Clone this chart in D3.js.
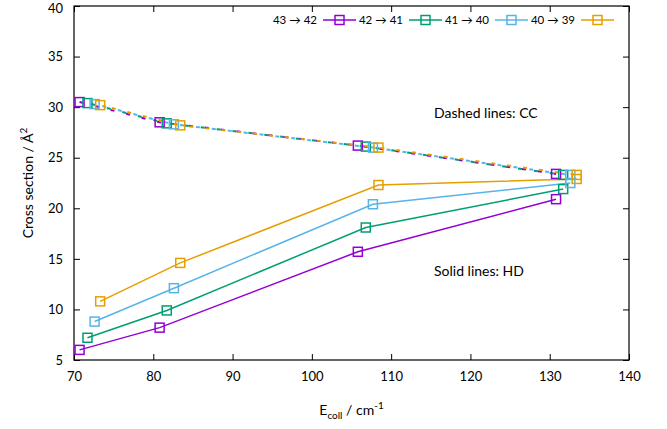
<!DOCTYPE html>
<html>
<head>
<meta charset="utf-8">
<script src="https://cdn.jsdelivr.net/npm/d3@7"></script>
<style>
  body { margin: 0; background: #fff; }
  svg text { font-family: Lato, "Open Sans", sans-serif; fill: #000; }
</style>
</head>
<body>
<div id="chart"></div>
<script>
const seriesNames = ["43 \u2192 42", "42 \u2192 41", "41 \u2192 40", "40 \u2192 39"];
const seriesColors = ["#9400d3", "#009e73", "#56b4e9", "#e69f00"];

const ePurple = [70.7, 80.8, 105.8, 130.8];
const eGreen = [71.7, 81.7, 106.8, 131.7];
const eBlue = [72.6, 82.6, 107.7, 132.6];
const eOrange = [73.3, 83.4, 108.4, 133.4];

const ccPurple = [30.5, 28.5, 26.2, 23.4];
const ccGreen = [30.4, 28.4, 26.1, 23.3];
const ccBlue = [30.3, 28.3, 26.0, 23.3];
const ccOrange = [30.2, 28.2, 26.0, 23.3];

const hdPurple = [6.0, 8.2, 15.7, 20.9];
const hdGreen = [7.2, 9.9, 18.1, 21.9];
const hdBlue = [8.8, 12.1, 20.4, 22.5];
const hdOrange = [10.8, 14.6, 22.3, 22.9];

const xTicks = [70, 80, 90, 100, 110, 120, 130, 140];
const yTicks = [5, 10, 15, 20, 25, 30, 35, 40];

const energies = [ePurple, eGreen, eBlue, eOrange];
const ccValues = [ccPurple, ccGreen, ccBlue, ccOrange];
const hdValues = [hdPurple, hdGreen, hdBlue, hdOrange];

const width = 667;
const height = 429;
const margin = { top: 6, right: 38, bottom: 69, left: 74 };

const x = d3.scaleLinear().domain([70, 140]).range([margin.left, width - margin.right]);
const y = d3.scaleLinear().domain([5, 40]).range([height - margin.bottom, margin.top]);

const svg = d3.select("#chart").append("svg").attr("width", width).attr("height", height);

// axes (ticks inside, mirrored)
const tickLen = 6;
svg.append("g")
  .attr("transform", `translate(0,${y(5)})`)
  .call(d3.axisBottom(x).tickValues(xTicks).tickSize(-tickLen).tickPadding(12))
  .call((g) => g.select(".domain").remove())
  .call((g) => g.selectAll("text").attr("font-size", 13));
svg.append("g")
  .attr("transform", `translate(0,${y(40)})`)
  .call(d3.axisTop(x).tickValues(xTicks).tickSize(-tickLen).tickFormat(""))
  .call((g) => g.select(".domain").remove());
svg.append("g")
  .attr("transform", `translate(${x(70)},0)`)
  .call(d3.axisLeft(y).tickValues(yTicks).tickSize(-tickLen).tickPadding(11))
  .call((g) => g.select(".domain").remove())
  .call((g) => g.selectAll("text").attr("font-size", 13)
    .attr("dy", (d) => (d === 40 ? "0.5em" : "0.32em")));
svg.append("g")
  .attr("transform", `translate(${x(140)},0)`)
  .call(d3.axisRight(y).tickValues(yTicks).tickSize(-tickLen).tickFormat(""))
  .call((g) => g.select(".domain").remove());

svg.append("rect")
  .attr("x", x(70)).attr("y", y(40))
  .attr("width", x(140) - x(70)).attr("height", y(5) - y(40))
  .attr("fill", "none").attr("stroke", "#000").attr("stroke-width", 1.2);

const line = d3.line().x((d) => x(d[0])).y((d) => y(d[1]));

// solid HD lines
seriesNames.forEach((name, i) => {
  const pts = energies[i].map((e, j) => [e, hdValues[i][j]]);
  svg.append("path").datum(pts).attr("d", line)
    .attr("fill", "none").attr("stroke", seriesColors[i]).attr("stroke-width", 1.5);
});

// dashed CC lines, interleaved
seriesNames.forEach((name, i) => {
  const pts = energies[i].map((e, j) => [e, ccValues[i][j]]);
  svg.append("path").datum(pts).attr("d", line)
    .attr("fill", "none").attr("stroke", seriesColors[i]).attr("stroke-width", 2)
    .attr("stroke-dasharray", "4,12").attr("stroke-dashoffset", -i * 4);
});

// markers
const ms = 9;
seriesNames.forEach((name, i) => {
  [hdValues[i], ccValues[i]].forEach((vals) => {
    svg.append("g").selectAll("rect")
      .data(energies[i].map((e, j) => [e, vals[j]]))
      .join("rect")
      .attr("x", (d) => x(d[0]) - ms / 2)
      .attr("y", (d) => y(d[1]) - ms / 2)
      .attr("width", ms).attr("height", ms)
      .attr("fill", "none").attr("stroke", seriesColors[i]).attr("stroke-width", 1.5);
  });
});

// legend
const legend = svg.append("g").attr("transform", `translate(0,20)`);
seriesNames.forEach((name, i) => {
  const x0 = 323 + i * 86;
  legend.append("text").attr("x", x0 - 6).attr("y", 4)
    .attr("text-anchor", "end").attr("font-size", 11.5).text(name);
  legend.append("line").attr("x1", x0).attr("x2", x0 + 33).attr("y1", 0).attr("y2", 0)
    .attr("stroke", seriesColors[i]).attr("stroke-width", 1.5);
  legend.append("rect").attr("x", x0 + 16.5 - ms / 2).attr("y", -ms / 2)
    .attr("width", ms).attr("height", ms)
    .attr("fill", "none").attr("stroke", seriesColors[i]).attr("stroke-width", 1.5);
});

// annotations
svg.append("text").attr("x", 434).attr("y", 118).attr("font-size", 14).text("Dashed lines: CC");
svg.append("text").attr("x", 434).attr("y", 276).attr("font-size", 14).text("Solid lines: HD");

// axis labels
const xl = svg.append("text").attr("x", x(105)).attr("y", 415)
  .attr("text-anchor", "middle").attr("font-size", 14);
xl.append("tspan").text("E");
xl.append("tspan").attr("font-size", 10).attr("dy", 4).text("coll");
xl.append("tspan").attr("dy", -4).text(" / cm");
xl.append("tspan").attr("font-size", 10).attr("dy", -6).text("-1");

svg.append("text")
  .attr("transform", `translate(33,${y(22.5)}) rotate(-90)`)
  .attr("text-anchor", "middle").attr("font-size", 14)
  .html('Cross section / Å<tspan font-size="10" dy="-6">2</tspan>');
</script>
</body>
</html>
